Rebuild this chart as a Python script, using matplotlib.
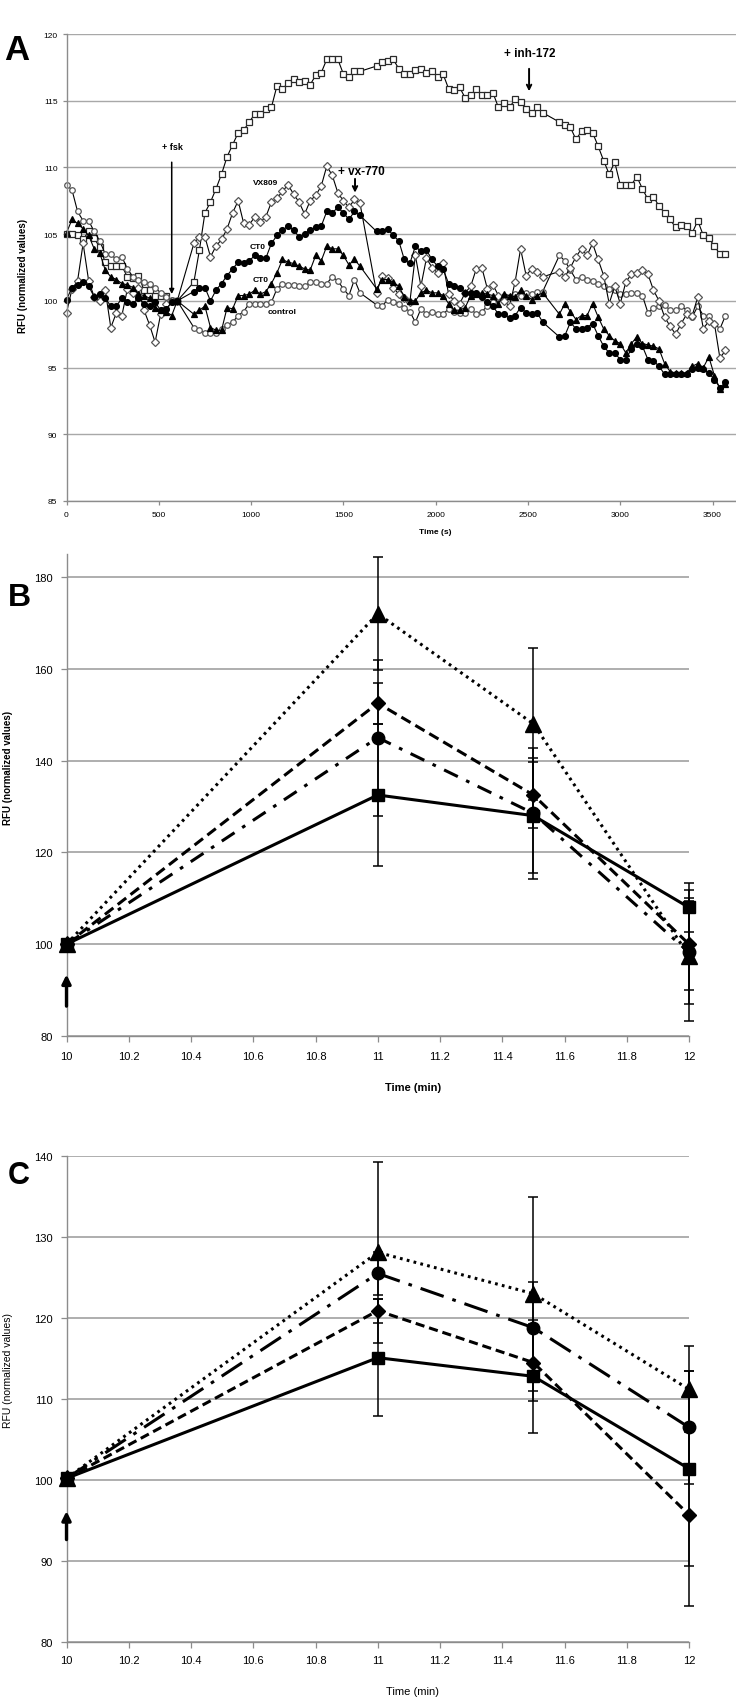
import numpy as np
import matplotlib
matplotlib.use("Agg")
import matplotlib.pyplot as plt

plt.rcParams['font.family'] = ['Liberation Sans', 'DejaVu Sans']

# ---------------- Panel A data (RFU vs time, 30 s sampling; None = no reading) ----------------
time_s = np.arange(0, 3600, 30)

inh172_squares = [
    105.0, 105.0, 104.9, 104.6, 105.2, 104.7, 104.0, 102.9, 102.6, 102.6,
    102.6, 101.8, 101.7, 101.9, 100.8, 100.8, 100.4, 100.4, 100.4, 100.0,
    100.0, None, None, 101.4, 103.8, 106.6, 107.4, 108.4, 109.5, 110.8,
    111.7, 112.6, 112.8, 113.4, 114.0, 114.0, 114.4, 114.5, 116.1, 115.9,
    116.3, 116.6, 116.4, 116.5, 116.2, 116.9, 117.1, 118.1, 118.1, 118.1,
    117.0, 116.8, 117.2, 117.2, None, None, 117.6, 117.9, 118.0, 118.1,
    117.4, 117.0, 117.0, 117.3, 117.4, 117.1, 117.2, 116.8, 117.0, 115.9,
    115.8, 116.0, 115.2, 115.4, 115.9, 115.4, 115.4, 115.6, 114.5, 114.8,
    114.5, 115.1, 114.9, 114.4, 114.1, 114.5, 114.1, None, None, 113.4,
    113.2, 113.0, 112.1, 112.7, 112.8, 112.6, 111.6, 110.5, 109.5, 110.4,
    108.7, 108.7, 108.7, 109.3, 108.4, 107.6, 107.8, 107.1, 106.6, 106.1,
    105.5, 105.7, 105.6, 105.1, 106.0, 104.9, 104.7, 104.1, 103.5, 103.5]

vx809_diamonds = [
    99.1, 100.9, 101.5, 104.3, 101.5, 100.3, 100.0, 100.8, 98.0, 99.1,
    98.9, 100.9, 100.6, 101.0, 99.3, 98.2, 96.9, 99.0, 99.8, 100.0,
    100.0, None, None, 104.3, 104.8, 104.8, 103.3, 104.1, 104.6, 105.4,
    106.6, 107.5, 105.8, 105.7, 106.3, 105.9, 106.3, 107.4, 107.7, 108.2,
    108.7, 108.0, 107.4, 106.5, 107.5, 107.9, 108.6, 110.1, 109.4, 108.1,
    107.5, 107.0, 107.6, 107.3, None, None, 100.6, 101.9, 101.7, 101.0,
    100.5, 100.2, 99.9, 103.4, 101.1, 103.2, 102.5, 102.1, 102.8, 100.5,
    100.0, 99.8, 100.6, 101.1, 102.4, 102.5, 100.9, 101.2, 100.4, 100.0,
    99.6, 101.4, 103.9, 101.9, 102.4, 102.2, 101.8, None, None, 102.2,
    101.8, 102.5, 103.3, 103.9, 103.4, 104.3, 103.1, 101.9, 99.8, 101.1,
    99.8, 101.4, 102.0, 102.1, 102.3, 102.0, 100.8, 100.0, 98.8, 98.1,
    97.5, 98.3, 99.0, 98.9, 100.3, 97.9, 98.5, 98.3, 95.7, 96.3]

ct0_circles = [
    100.1, 101.0, 101.2, 101.4, 101.1, 100.3, 100.5, 100.2, 99.6, 99.6,
    100.2, 99.9, 99.8, 100.2, 99.8, 99.6, 99.9, 99.3, 99.4, 99.9,
    100.0, None, None, 100.7, 101.0, 101.0, 100.0, 100.8, 101.3, 101.9,
    102.4, 102.9, 102.8, 103.0, 103.4, 103.2, 103.2, 104.3, 104.9, 105.3,
    105.6, 105.3, 104.8, 105.0, 105.3, 105.5, 105.6, 106.7, 106.6, 107.0,
    106.6, 106.1, 106.7, 106.4, None, None, 105.2, 105.2, 105.4, 104.9,
    104.5, 103.1, 102.8, 104.1, 103.7, 103.8, 103.1, 102.6, 102.4, 101.3,
    101.1, 101.0, 100.6, 100.6, 100.6, 100.3, 99.9, 99.6, 99.0, 99.0,
    98.7, 98.9, 99.5, 99.1, 99.0, 99.1, 98.4, None, None, 97.3,
    97.4, 98.4, 97.9, 97.9, 98.0, 98.3, 97.4, 96.6, 96.1, 96.1,
    95.6, 95.6, 96.4, 96.8, 96.6, 95.6, 95.5, 95.1, 94.5, 94.5,
    94.5, 94.5, 94.5, 94.9, 95.0, 94.9, 94.6, 94.1, 93.5, 93.9]

ct0_triangles = [
    105.1, 106.1, 105.8, 105.4, 104.9, 103.9, 103.6, 102.3, 101.8, 101.6,
    101.3, 101.2, 101.0, 100.5, 100.4, 100.2, 99.5, 99.3, 99.2, 98.9,
    100.0, None, None, 99.0, 99.3, 99.6, 98.0, 97.8, 97.8, 99.5,
    99.4, 100.4, 100.4, 100.5, 100.8, 100.5, 100.7, 101.3, 102.1, 103.1,
    102.9, 102.8, 102.6, 102.4, 102.3, 103.4, 103.0, 104.1, 103.9, 103.9,
    103.4, 102.7, 103.1, 102.6, None, None, 100.9, 101.6, 101.6, 101.4,
    101.1, 100.3, 100.0, 100.0, 100.6, 100.8, 100.6, 100.6, 100.4, 99.8,
    99.3, 99.3, 99.5, 100.4, 100.5, 100.6, 100.5, 100.4, 99.8, 100.5,
    100.4, 100.3, 100.8, 100.4, 100.1, 100.4, 100.6, None, None, 99.0,
    99.8, 99.2, 98.6, 98.9, 98.9, 99.8, 98.8, 97.9, 97.4, 97.0,
    96.8, 96.1, 96.8, 97.3, 96.8, 96.7, 96.6, 96.4, 95.3, 94.7,
    94.6, 94.6, 94.6, 95.1, 95.3, 95.0, 95.8, 94.4, 93.4, 93.8]

control_circles = [
    108.7, 108.3, 106.7, 106.0, 106.0, 105.2, 104.5, 103.5, 103.5, 103.1,
    103.3, 102.4, 101.8, 101.6, 101.4, 101.3, 101.0, 100.6, 100.3, 100.1,
    100.0, None, None, 98.0, 97.8, 97.6, 97.6, 97.6, 97.9, 98.2,
    98.4, 98.9, 99.2, 99.8, 99.8, 99.8, 99.8, 99.9, 100.9, 101.3,
    101.2, 101.2, 101.1, 101.1, 101.4, 101.4, 101.3, 101.3, 101.8, 101.5,
    100.9, 100.4, 101.6, 100.6, None, None, 99.7, 99.6, 100.1, 99.9,
    99.8, 99.5, 99.2, 98.4, 99.4, 99.0, 99.2, 99.0, 99.0, 99.4,
    99.2, 99.1, 99.1, 99.4, 99.0, 99.2, 99.6, 99.9, 100.2, 100.4,
    100.3, 100.5, 100.4, 100.6, 100.5, 100.7, 100.7, None, None, 103.4,
    103.0, 102.3, 101.6, 101.8, 101.6, 101.5, 101.3, 101.1, 100.9, 100.8,
    100.5, 100.5, 100.6, 100.6, 100.4, 99.1, 99.5, 99.6, 99.7, 99.3,
    99.3, 99.6, 99.3, 98.8, 99.6, 98.9, 98.9, 98.3, 97.9, 98.9]

A_xticks = [0, 500, 1000, 1500, 2000, 2500, 3000, 3500]
A_yticks = [85, 90, 95, 100, 105, 110, 115, 120]

# ---------------- Panel B data ----------------
B_time = [10, 11, 11.5, 12]
B_square = [100, 132.5, 128.0, 108.0]
B_square_err = [0, 15.5, 12.5, 5.3]
B_triangle = [100, 172.0, 148.0, 97.5]
B_triangle_err = [0, 12.3, 16.5, 14.2]
B_diamond = [100, 152.5, 132.5, 100.0]
B_diamond_err = [0, 4.5, 7.2, 10.0]
B_circle = [100, 145.0, 128.5, 98.2]
B_circle_err = [0, 17.0, 14.2, 11.2]
B_yticks = [80, 100, 120, 140, 160, 180]

# ---------------- Panel C data ----------------
C_time = [10, 11, 11.5, 12]
C_square = [100.2, 115.1, 112.8, 101.4]
C_square_err = [0, 7.2, 7.0, 12.0]
C_triangle = [100.2, 128.1, 123.0, 111.2]
C_triangle_err = [0, 11.2, 12.0, 5.3]
C_circle = [100.2, 125.5, 118.8, 106.5]
C_circle_err = [0, 2.7, 5.7, 7.0]
C_diamond = [100.2, 120.9, 114.5, 95.7]
C_diamond_err = [0, 1.5, 4.8, 11.2]
C_yticks = [80, 90, 100, 110, 120, 130, 140]

min_xticks = [10, 10.2, 10.4, 10.6, 10.8, 11, 11.2, 11.4, 11.6, 11.8, 12]
min_xlabels = ['10', '10.2', '10.4', '10.6', '10.8', '11', '11.2', '11.4', '11.6', '11.8', '12']

# ---------------- figure ----------------
W, H = 736, 1699
fig = plt.figure(figsize=(W / 100, H / 100), dpi=100)


def axes_px(left, top, right, bottom):
    return fig.add_axes([left / W, 1 - bottom / H, (right - left) / W, (bottom - top) / H])


GRID = '#a8a8a8'
SPINE = '#8c8c8c'


def style_axes(ax, tick_len, pad_x, pad_y, fs):
    for s in ['top', 'right']:
        ax.spines[s].set_visible(False)
    for s in ['left', 'bottom']:
        ax.spines[s].set_color(SPINE)
        ax.spines[s].set_linewidth(1.0)
    ax.tick_params(axis='both', colors=SPINE, length=tick_len, width=0.9, labelcolor='black', labelsize=fs)
    ax.tick_params(axis='x', pad=pad_x)
    ax.tick_params(axis='y', pad=pad_y)
    ax.set_axisbelow(True)


# ===== Panel A =====
axA = axes_px(66.5, 35, 736, 502)
axA.set_xlim(0, 3627)
axA.set_ylim(85, 120)
axA.set_xticks(A_xticks)
axA.set_yticks(A_yticks)
axA.grid(axis='y', color=GRID, lw=1.0)
style_axes(axA, 3, 4.5, 3.5, 6)

seriesA = [
    (inh172_squares, 's', 'white', '#2a2a2a', 4.6),
    (control_circles, 'o', 'white', '#555555', 4.0),
    (vx809_diamonds, 'D', 'white', '#555555', 3.8),
    (ct0_triangles, '^', 'black', 'black', 4.4),
    (ct0_circles, 'o', 'black', 'black', 4.2),
]
for vals, mk, mfc, mec, ms in seriesA:
    v = np.array([np.nan if x is None else x for x in vals], dtype=float)
    m = ~np.isnan(v)
    axA.plot(time_s[m], v[m], color='black', lw=0.8, marker=mk, ms=ms,
             mfc=mfc, mec=mec, mew=0.9, clip_on=False)

axA.annotate('', xy=(570, 100.3), xytext=(570, 110.6),
             arrowprops=dict(arrowstyle='-|>', lw=1.1, color='black', mutation_scale=7))
axA.text(576, 111.55, '+ fsk', ha='center', va='center', fontsize=6.5, fontweight='bold')
axA.annotate('', xy=(1563, 107.9), xytext=(1563, 109.35),
             arrowprops=dict(arrowstyle='->', lw=1.4, color='black', mutation_scale=8))
axA.text(1596, 109.75, '+ vx-770', ha='center', va='center', fontsize=8.5, fontweight='bold')
axA.annotate('', xy=(2506, 115.5), xytext=(2506, 117.6),
             arrowprops=dict(arrowstyle='->', lw=1.4, color='black', mutation_scale=8))
axA.text(2511, 118.55, '+ inh-172', ha='center', va='center', fontsize=8.5, fontweight='bold')
axA.text(1081, 108.9, 'VX809', ha='center', va='center', fontsize=6, fontweight='bold')
axA.text(1038, 104.1, 'CT0', ha='center', va='center', fontsize=6, fontweight='bold')
axA.text(1049, 101.6, 'CT0', ha='center', va='center', fontsize=6, fontweight='bold')
axA.text(1168, 99.2, 'control', ha='center', va='center', fontsize=6, fontweight='bold')

fig.text(435 / W, 1 - 533 / H, 'Time (s)', ha='center', va='center', fontsize=6, fontweight='bold')
fig.text(23 / W, 1 - 276 / H, 'RFU (normalized values)', rotation=90, ha='center', va='center',
         fontsize=7, fontweight='bold')
fig.text(17 / W, 1 - 50 / H, 'A', ha='center', va='center', fontsize=25, fontweight='bold')

# ===== Panel B =====
axB = axes_px(66.5, 555, 689, 1037)
axB.set_xlim(10, 12)
axB.set_ylim(80, 185)
axB.set_xticks(min_xticks)
axB.set_xticklabels(min_xlabels)
axB.set_yticks(B_yticks)
axB.grid(axis='y', color=GRID, lw=1.3)
style_axes(axB, 4, 6.5, 6, 8)

lwBC = 2.2
ebkw = dict(ecolor='black', elinewidth=1.1, capsize=3.5, capthick=1.1)
axB.errorbar(B_time, B_square, yerr=B_square_err, color='black', lw=lwBC, ls='-',
             marker='s', ms=9, clip_on=False, zorder=3, **ebkw)
axB.errorbar(B_time, B_circle, yerr=B_circle_err, color='black', lw=lwBC, ls=(0, (5, 3, 1.2, 3)),
             marker='o', ms=9, clip_on=False, zorder=3, **ebkw)
axB.errorbar(B_time, B_diamond, yerr=B_diamond_err, color='black', lw=lwBC, ls=(0, (3.5, 1.8)),
             marker='D', ms=7.5, clip_on=False, zorder=3, **ebkw)
axB.errorbar(B_time, B_triangle, yerr=B_triangle_err, color='black', lw=lwBC, ls=(0, (0.9, 1.4)),
             marker='^', ms=11, clip_on=False, zorder=3, **ebkw)
axB.annotate('', xy=(10, 94.0), xytext=(10, 85.9),
             arrowprops=dict(arrowstyle='-|>', lw=2.4, color='black', mutation_scale=13),
             annotation_clip=False)

fig.text(413 / W, 1 - 1088 / H, 'Time (min)', ha='center', va='center', fontsize=8, fontweight='bold')
fig.text(8 / W, 1 - 768 / H, 'RFU (normalized values)', rotation=90, ha='center', va='center',
         fontsize=7, fontweight='bold')
fig.text(19 / W, 1 - 598 / H, 'B', ha='center', va='center', fontsize=23, fontweight='bold')

# ===== Panel C =====
axC = axes_px(66.5, 1157, 689, 1643)
axC.set_xlim(10, 12)
axC.set_ylim(80, 140)
axC.set_xticks(min_xticks)
axC.set_xticklabels(min_xlabels)
axC.set_yticks(C_yticks)
axC.grid(axis='y', color=GRID, lw=1.3)
style_axes(axC, 4, 5.5, 6, 8)

axC.errorbar(C_time, C_square, yerr=C_square_err, color='black', lw=lwBC, ls='-',
             marker='s', ms=9, clip_on=False, zorder=3, **ebkw)
axC.errorbar(C_time, C_diamond, yerr=C_diamond_err, color='black', lw=lwBC, ls=(0, (3, 1.6)),
             marker='D', ms=7.5, clip_on=False, zorder=3, **ebkw)
axC.errorbar(C_time, C_circle, yerr=C_circle_err, color='black', lw=lwBC, ls=(0, (8, 3, 1.2, 3)),
             marker='o', ms=9, clip_on=False, zorder=3, **ebkw)
axC.errorbar(C_time, C_triangle, yerr=C_triangle_err, color='black', lw=lwBC, ls=(0, (0.9, 1.4)),
             marker='^', ms=11, clip_on=False, zorder=3, **ebkw)
axC.annotate('', xy=(10, 96.5), xytext=(10, 92.3),
             arrowprops=dict(arrowstyle='-|>', lw=2.4, color='black', mutation_scale=13),
             annotation_clip=False)

fig.text(413 / W, 1 - 1692 / H, 'Time (min)', ha='center', va='center', fontsize=8)
fig.text(8 / W, 1 - 1371 / H, 'RFU (normalized values)', rotation=90, ha='center', va='center',
         fontsize=7.5)
fig.text(19 / W, 1 - 1176 / H, 'C', ha='center', va='center', fontsize=22, fontweight='bold')

fig.savefig('out.png', dpi=100, facecolor='white')
